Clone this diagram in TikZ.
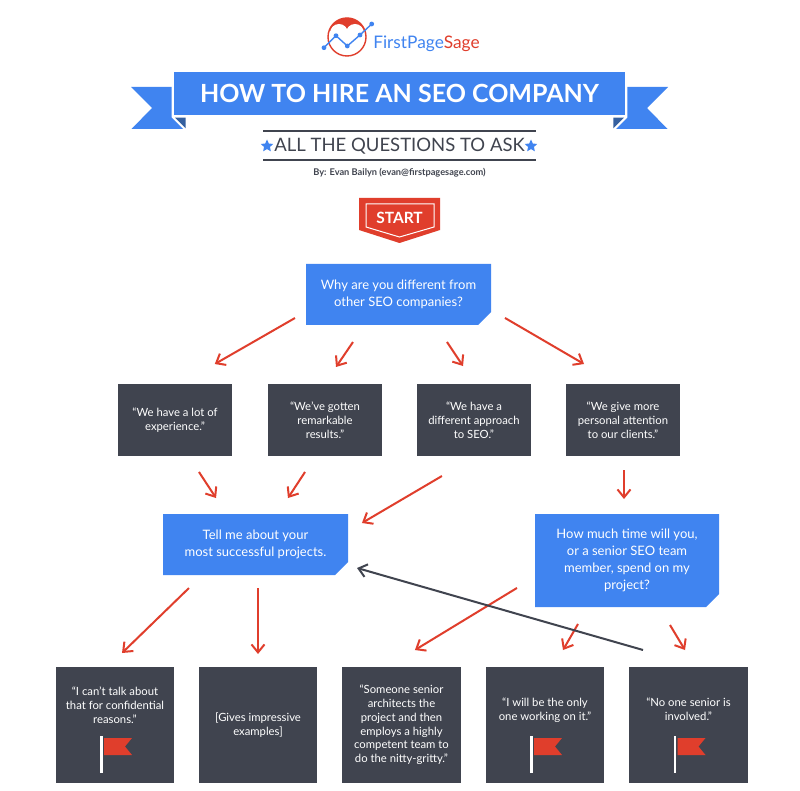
\documentclass[tikz,border=0pt]{standalone}
\usepackage{fontspec}
\setmainfont{Lato}
\usetikzlibrary{arrows.meta}
\usetikzlibrary{calc}
\usetikzlibrary{shapes.misc}
\usetikzlibrary{shapes.geometric}
\definecolor{seoblue}{HTML}{4084F0}
\definecolor{seodark}{HTML}{40444F}
\definecolor{seored}{HTML}{E03E2C}
\definecolor{seofold}{HTML}{35609F}
\newcommand{\redflag}[1]{
	\begin{scope}[shift={(#1.center)}]
		\draw[white,line width=2.4pt] (-13.7,11) -- (-13.7,48);
		\fill[seored] (-11,13) -- (17,13) -- (10,21.5) -- (17,30) -- (-11,30) -- cycle;
	\end{scope}
}
\begin{document}
\begin{tikzpicture}[x=1pt,y=-1pt,semithick]
	\tikzstyle{question}=[chamfered rectangle,chamfered rectangle corners=south east,chamfered rectangle xsep=6.5pt,chamfered rectangle ysep=6.5pt,fill=seoblue,text=white,align=center,inner sep=0pt,outer sep=0pt,font=\fontsize{13}{17}\selectfont]
	\tikzstyle{answer}=[rectangle,fill=seodark,text=white,align=center,inner sep=0pt,outer sep=0pt,font=\fontsize{11.3}{13.8}\selectfont]
	\tikzstyle{boxtext}=[text=white,align=center,inner sep=0pt,font=\fontsize{11.3}{13.8}\selectfont]
	\tikzstyle{bluestar}=[star,star points=5,star point ratio=2.1,fill=seoblue,inner sep=0pt,minimum size=13pt]
	\tikzstyle{redarrow}=[draw=seored,line width=2pt,-{Straight Barb[length=8pt,width=13pt]}]
	\tikzstyle{darkarrow}=[draw=seodark,line width=2pt,-{Straight Barb[length=8pt,width=13pt]}]
	\useasboundingbox (0,0) rectangle (800,791);
	\fill[white] (0,0) rectangle (800,791);

	% logo
	\fill[seored] (329,31) arc (198:342:19) -- cycle;
	\fill[white] (339,33) circle (9);
	\fill[white] (355,33) circle (9);
	\draw[seored,line width=1.4pt] (347,37) circle (19);
	\draw[seoblue,line width=1.4pt] (324,47.7) -- (336,35.7) -- (347.3,46) -- (360,35) -- (371.7,24);
	\foreach \px/\py in {324/47.7,336/35.7,347.3/46,360/35,371.7/24}
		\fill[seoblue] (\px,\py) circle (2.4);
	\node[anchor=base west,inner sep=0pt,font=\fontsize{17.3}{20}\selectfont] (logo) at (373,49) {\textcolor{seoblue}{FirstPage}\textcolor{seored}{Sage}};

	% banner
	\fill[seoblue] (131,87) -- (171.7,87) -- (171.7,117.7) -- (183,129) -- (131.5,129) -- (152,108) -- cycle;
	\fill[seoblue] (668,87) -- (627.3,87) -- (627.3,117.7) -- (616,129) -- (667.5,129) -- (647,108) -- cycle;
	\fill[seofold] (175,117.7) -- (185.7,117.7) -- (185.7,128.3) -- cycle;
	\fill[seofold] (624,117.7) -- (613.3,117.7) -- (613.3,128.3) -- cycle;
	\node[rectangle,fill=seoblue,minimum width=451pt,minimum height=43pt,inner sep=0pt,text=white,font=\fontsize{25}{30}\selectfont\bfseries] (title) at (399.5,93.7) {\raisebox{-1pt}{HOW TO HIRE AN SEO COMPANY}};

	% subtitle
	\node[inner sep=0pt,text=seodark,font=\fontsize{18.5}{24}\selectfont] (subtitle) at (399.5,146) {ALL THE QUESTIONS TO ASK};
	\draw[seodark,line width=2pt] (263,131) -- (536,131);
	\draw[seodark,line width=2pt] (263,160) -- (536,160);
	\node[bluestar] (starl) at (267,146) {};
	\node[bluestar] (starr) at (531,146) {};
	\node[inner sep=0pt,text=seodark,font=\fontsize{9.25}{11}\selectfont\bfseries] (byline) at (399.5,173) {By: Evan Bailyn (evan@firstpagesage.com)};

	% start
	\fill[seored] (359,198) -- (440,198) -- (440,230) -- (399.5,243) -- (359,230) -- cycle;
	\draw[white,line width=1pt] (366,204) -- (434,204) -- (434,227) -- (399.5,237) -- (366,227) -- cycle;
	\node[inner sep=0pt,text=white,font=\fontsize{15.5}{18}\selectfont\bfseries] (start) at (399.5,218) {START};

	% questions
	\node[question,minimum width=185pt,minimum height=61pt] (q1) at (398.5,294.5) {Why are you different from\\other SEO companies?};
	\node[question,minimum width=185pt,minimum height=61pt] (q2) at (255.5,544.5) {Tell me about your\\most successful projects.};
	\node[question,minimum width=184pt,minimum height=93pt] (q3) at (627,560.5) {How much time will you,\\or a senior SEO team\\member, spend on my\\project?};

	% answers
	\node[answer,minimum width=114pt,minimum height=72pt] (a1) at (175,420) {“We have a lot of\\experience.”};
	\node[answer,minimum width=114pt,minimum height=72pt] (a2) at (325,420) {“We’ve gotten\\remarkable\\results.”};
	\node[answer,minimum width=114pt,minimum height=72pt] (a3) at (474,420) {“We have a\\different approach\\to SEO.”};
	\node[answer,minimum width=114pt,minimum height=72pt] (a4) at (623,420) {“We give more\\personal attention\\to our clients.”};

	\node[answer,minimum width=118pt,minimum height=116pt] (b1) at (115,725) {};
	\node[answer,minimum width=118pt,minimum height=116pt] (b2) at (258,725) {[Gives impressive\\examples]};
	\node[answer,minimum width=119pt,minimum height=116pt] (b3) at (401.5,725) {“Someone senior\\architects the\\project and then\\employs a highly\\competent team to\\do the nitty-gritty.”};
	\node[answer,minimum width=118pt,minimum height=116pt] (b4) at (545,725) {};
	\node[answer,minimum width=119pt,minimum height=116pt] (b5) at (688.5,725) {};
	\node[boxtext] (b1text) at (115,705) {“I can’t talk about\\that for confidential\\reasons.”};
	\node[boxtext] (b4text) at (545,710.5) {“I will be the only\\one working on it.”};
	\node[boxtext] (b5text) at (688.5,709.5) {“No one senior is\\involved.”};
	\redflag{b1}
	\redflag{b4}
	\redflag{b5}

	% arrows
	\path ([yshift=-17.2pt]q1.west) edge[redarrow,shorten <=12.7pt,shorten >=40.1pt] ([xshift=5pt]a1.north)
	([xshift=-33.9pt]q1.south) edge[redarrow,shorten <=20.6pt,shorten >=20.6pt] ([xshift=-0.6pt]a2.north)
	([xshift=37.2pt]q1.south) edge[redarrow,shorten <=20.4pt,shorten >=21.6pt] ([xshift=1pt]a3.north)
	([yshift=-15.3pt]q1.east) edge[redarrow,shorten <=16.2pt,shorten >=39.7pt] ([xshift=-4.7pt]a4.north)
	([xshift=13.5pt]a1.south) edge[redarrow,shorten <=19.1pt,shorten >=19.1pt] ([xshift=-29pt]q2.north)
	([xshift=-9.5pt]a2.south) edge[redarrow,shorten <=19.1pt,shorten >=19.1pt] ([xshift=22pt]q2.north)
	([xshift=2pt]a3.south) edge[redarrow,shorten <=39.5pt,shorten >=16.2pt] ([yshift=13.3pt]q2.east)
	([xshift=1pt]a4.south) edge[redarrow,shorten <=14pt,shorten >=15pt] ([xshift=-3pt]q3.north)
	([xshift=-53.1pt]q2.south) edge[redarrow,shorten <=18.7pt,shorten >=20.1pt] ([xshift=-7.4pt]b1.north)
	([xshift=2.5pt]q2.south) edge[redarrow,shorten <=13pt,shorten >=13pt] (b2.north)
	([yshift=-16.5pt]q3.west) edge[redarrow,shorten <=21.1pt,shorten >=32.7pt] ([xshift=-14.5pt]b3.north)
	([xshift=-39.2pt]q3.south) edge[redarrow,shorten <=19.6pt,shorten >=19.6pt] ([xshift=8.2pt]b4.north)
	([xshift=32.2pt]q3.south) edge[redarrow,shorten <=21pt,shorten >=19.8pt] ([xshift=6.7pt]b5.north)
	([xshift=13.8pt]b5.north) edge[darkarrow,shorten <=61.7pt,shorten >=9.4pt] ([yshift=-20.9pt]q2.east);
\end{tikzpicture}
\end{document}
